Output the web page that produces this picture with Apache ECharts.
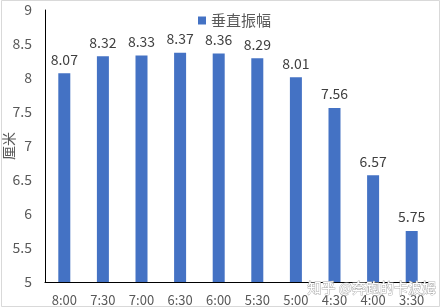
<!DOCTYPE html>
<html><head><meta charset="utf-8">
<script src="https://cdn.jsdelivr.net/npm/echarts@6/dist/echarts.min.js"></script>
<style>html,body{margin:0;padding:0;background:#fff}#c{width:442px;height:308px}</style>
</head><body><div id="c"></div>
<script>
const categories = ['8:00','7:30','7:00','6:30','6:00','5:30','5:00','4:30','4:00','3:30'];
const amplitude = [8.07, 8.32, 8.33, 8.37, 8.36, 8.29, 8.01, 7.56, 6.57, 5.75];
const seriesName = '垂直振幅';
const yName = '厘米';
const yMin = 5, yMax = 9, yStep = 0.5;
const watermark = '知乎 @奔跑的卡波姆';

const font = "'Noto Sans CJK SC', 'Noto Sans', sans-serif";
const chart = echarts.init(document.getElementById('c'), null, {renderer: 'canvas'});
chart.setOption({
  animation: false,
  backgroundColor: '#fff',
  textStyle: {fontFamily: font},
  grid: {left: 45, right: 11, top: 10, bottom: 26, containLabel: false, outerBoundsMode: 'none'},
  legend: {
    data: [seriesName], top: 8, left: 193,
    itemWidth: 8, itemHeight: 8, itemGap: 4, icon: 'rect',
    textStyle: {fontSize: 15, color: '#595959', fontFamily: font}
  },
  xAxis: {
    type: 'category', data: categories,
    axisLine: {lineStyle: {color: '#000', width: 1}},
    axisTick: {show: false},
    axisLabel: {color: '#595959', fontSize: 13, margin: 12, interval: 0, fontFamily: font}
  },
  yAxis: {
    type: 'value', min: yMin, max: yMax, interval: yStep,
    name: yName, nameLocation: 'middle', nameGap: 29, nameRotate: 90, nameMoveOverlap: false,
    nameTextStyle: {color: '#595959', fontSize: 14, fontFamily: font},
    axisLine: {show: true, lineStyle: {color: '#000', width: 1}},
    axisTick: {show: false},
    splitLine: {show: false},
    axisLabel: {color: '#595959', fontSize: 14, margin: 13, fontFamily: font}
  },
  series: [{
    name: seriesName, type: 'bar', data: amplitude, barWidth: 12,
    itemStyle: {color: '#4472C4'},
    label: {show: true, position: 'top', distance: 7, color: '#404040', fontSize: 14, fontFamily: font}
  }],
  graphic: [
    {type: 'rect', shape: {x: 1.5, y: 0.5, width: 438, height: 306}, style: {fill: 'none', stroke: '#d9d9d9', lineWidth: 1}, silent: true, z: -1},
    {type: 'text', left: 307, top: 280, style: {text: watermark, fill: '#ffffff', stroke: '#b0b0b0', lineWidth: 1, font: "14px 'Noto Sans CJK SC'"}, silent: true, z: 100}
  ]
});
</script></body></html>
